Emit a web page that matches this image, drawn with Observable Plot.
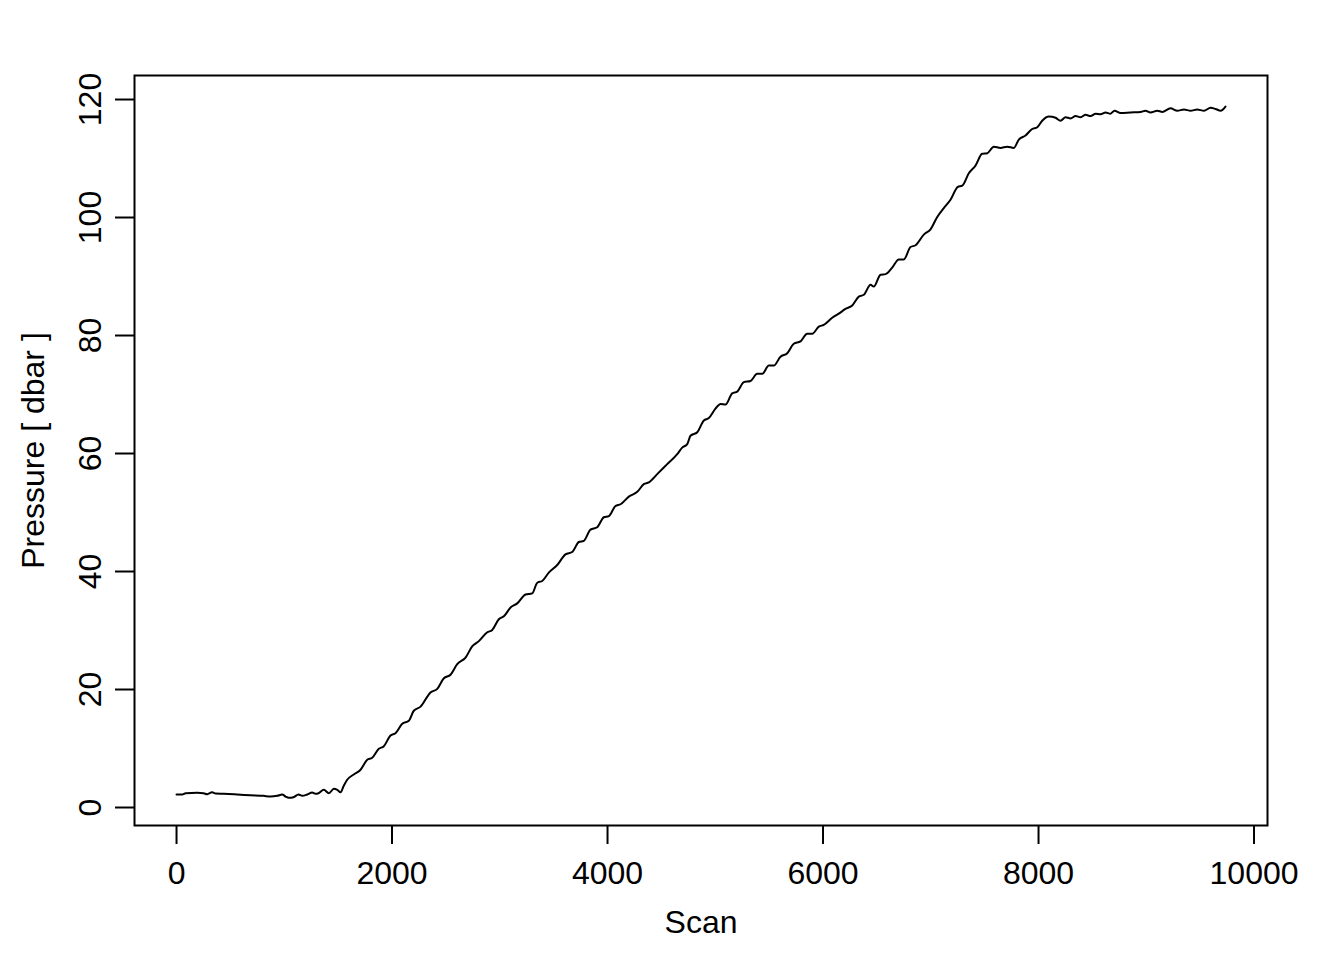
<!DOCTYPE html>
<html>
<head>
<meta charset="utf-8">
<script src="https://cdn.jsdelivr.net/npm/d3@7"></script>
<script src="https://cdn.jsdelivr.net/npm/@observablehq/plot@0.6"></script>
<style>
  html, body { margin: 0; padding: 0; background: #ffffff; }
  svg { display: block; }
</style>
</head>
<body>
<div id="chart"></div>
<script>
const scan = [0,53,84,192,251,285,331,362,436,563,
  687,807,872,935,981,1012,1042,1086,1132,1167,
  1213,1259,1290,1318,1367,1414,1460,1492,1522,1553,
  1584,1645,1708,1770,1816,1877,1924,1986,2032,2095,
  2156,2202,2265,2357,2420,2481,2543,2605,2682,2744,
  2806,2884,2930,2991,3038,3100,3162,3239,3301,3348,
  3394,3455,3533,3610,3672,3734,3780,3842,3904,3966,
  4012,4074,4121,4198,4276,4337,4383,4461,4554,4647,
  4693,4740,4770,4833,4894,4940,5002,5049,5095,5157,
  5204,5265,5327,5389,5436,5497,5543,5605,5668,5729,
  5791,5853,5900,5961,6007,6085,6146,6208,6271,6332,
  6379,6441,6471,6534,6580,6642,6703,6750,6812,6859,
  6935,6998,7060,7121,7183,7251,7292,7353,7415,7477,
  7524,7585,7647,7710,7771,7817,7879,7941,7988,8034,
  8096,8158,8204,8251,8297,8344,8390,8437,8483,8530,
  8576,8622,8668,8705,8761,8854,8947,8993,9039,9102,
  9148,9225,9288,9350,9411,9473,9535,9597,9643,9690,
  9735];
const pressure = [2.20,2.20,2.42,2.49,2.42,2.25,2.59,2.37,2.32,2.20,
  2.08,1.98,1.86,1.98,2.20,1.86,1.64,1.75,2.20,1.98,
  2.20,2.54,2.32,2.42,2.99,2.42,3.17,2.99,2.59,3.73,
  4.7,5.6,6.4,8.08,8.42,9.94,10.39,12.2,12.6,14.2,
  14.7,16.4,17.1,19.5,20.1,21.9,22.5,24.3,25.4,27.3,
  28.2,29.7,30.1,31.9,32.4,33.9,34.6,36.1,36.3,38.1,
  38.4,39.8,41.1,42.9,43.3,45.0,45.2,47.1,47.5,49.2,
  49.4,51.1,51.4,52.7,53.5,54.8,55.1,56.5,58.2,59.9,
  61.0,61.6,63.0,63.6,65.6,66.0,67.6,68.4,68.3,70.2,
  70.5,72.1,72.3,73.5,73.5,74.9,74.9,76.4,77.0,78.6,
  79.0,80.3,80.3,81.5,81.8,83.0,83.7,84.5,85.1,86.6,
  86.9,88.6,88.3,90.3,90.4,91.5,92.9,92.9,95.0,95.3,
  97.1,98.0,100.1,101.6,103.0,105.2,105.4,107.5,108.8,110.8,
  110.9,112.0,111.8,112.0,111.8,113.2,113.9,115.0,115.3,116.4,
  117.1,116.9,116.4,117.0,116.8,117.2,117.0,117.4,117.2,117.6,
  117.5,117.8,117.6,118.1,117.7,117.8,117.9,118.1,117.8,118.1,
  117.9,118.5,118.1,118.3,118.1,118.3,118.1,118.6,118.4,118.1,
  118.8];
const xTicks = [0, 2000, 4000, 6000, 8000, 10000];
const yTicks = [0, 20, 40, 60, 80, 100, 120];
const xTitle = "Scan";
const yTitle = "Pressure [ dbar ]";

const n = Math.min(scan.length, pressure.length);
const data = d3.range(n).map(i => ({scan: scan[i], pressure: pressure[i]}));

const font = "'Liberation Sans', Arial, Helvetica, sans-serif";

const chart = Plot.plot({
  width: 1344,
  height: 960,
  marginLeft: 134,
  marginRight: 77,
  marginTop: 75,
  marginBottom: 135,
  style: {fontFamily: font, fontSize: "32px", background: "#ffffff", color: "#000000"},
  x: {domain: [-390, 10125], axis: null},
  y: {domain: [-3.05, 124.07], axis: null},
  marks: [
    Plot.line(data, {x: "scan", y: "pressure", stroke: "#000000", strokeWidth: 2, curve: "monotone-x"}),
    Plot.frame({stroke: "#000000", strokeWidth: 2}),
    Plot.axisX(xTicks, {tickSize: 19, strokeWidth: 2, tickFormat: () => "", label: null}),
    Plot.axisY(yTicks, {tickSize: 19, strokeWidth: 2, tickFormat: () => "", label: null}),
    Plot.text(xTicks, {x: d => d, frameAnchor: "bottom", dy: 48, lineAnchor: "middle", textAnchor: "middle", fontSize: 32, fill: "#000000", text: d => String(d)}),
    Plot.text(yTicks, {y: d => d, frameAnchor: "left", dx: -44, rotate: -90, lineAnchor: "middle", textAnchor: "middle", fontSize: 32, fill: "#000000", text: d => String(d)}),
    Plot.text([xTitle], {frameAnchor: "bottom", dy: 97, lineAnchor: "middle", textAnchor: "middle", fontSize: 32, fill: "#000000", text: d => d}),
    Plot.text([yTitle], {frameAnchor: "left", dx: -101, rotate: -90, lineAnchor: "middle", textAnchor: "middle", fontSize: 32, fill: "#000000", text: d => d})
  ]
});
document.getElementById("chart").appendChild(chart);
</script>
</body>
</html>
